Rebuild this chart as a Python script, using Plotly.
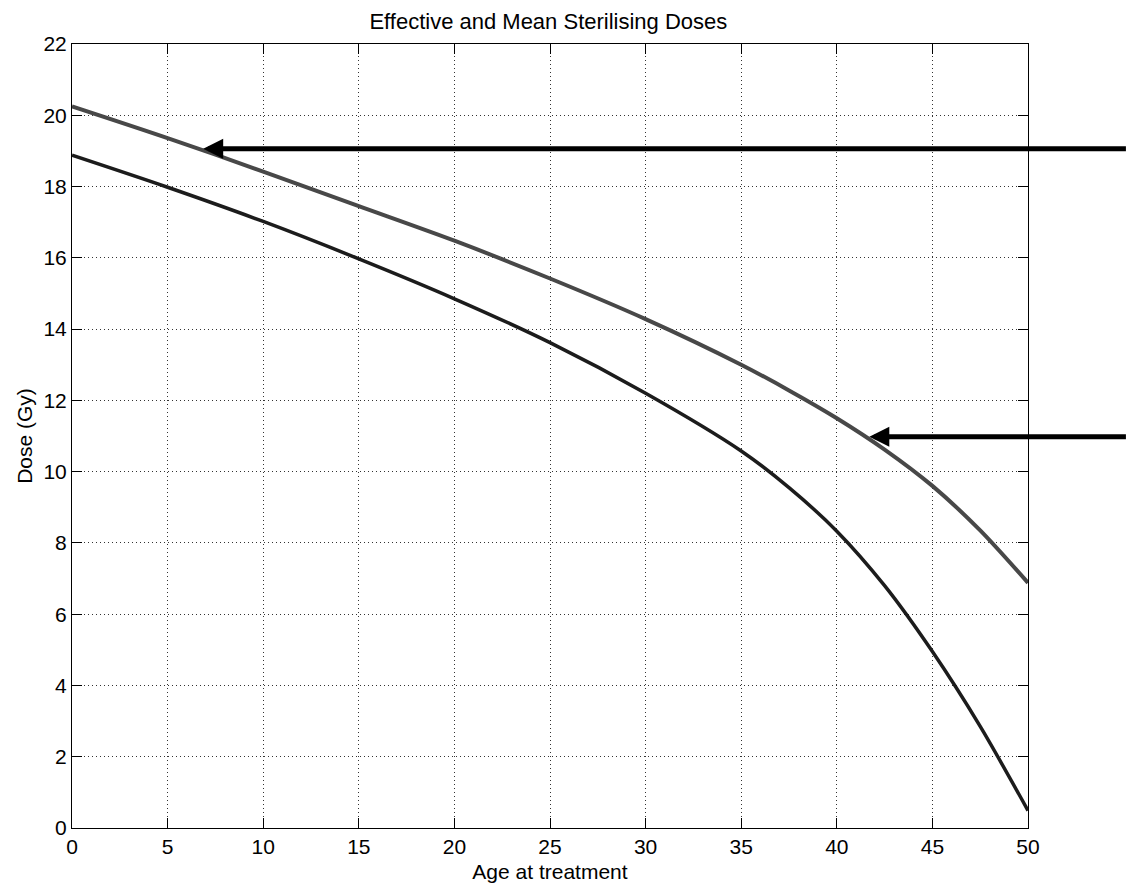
import plotly.graph_objects as go

# Age at treatment (years) and sterilising doses (Gy)
age_upper = [0, 5, 10, 15, 20, 25, 30, 35, 37.5, 40, 42.5, 45, 47.5, 50]
dose_upper = [20.25, 19.36, 18.42, 17.45, 16.48, 15.42, 14.28, 13.0, 12.28, 11.5, 10.62, 9.6, 8.35, 6.88]

age_lower = [0, 5, 10, 15, 20, 25, 30, 35, 37.5, 40, 42.5, 45, 47.5, 50]
dose_lower = [18.88, 17.98, 17.02, 15.97, 14.85, 13.62, 12.2, 10.58, 9.55, 8.33, 6.8, 4.95, 2.85, 0.49]

# Arrow tips pointing at each curve
arrow_tips = [(6.86, 19.06), (41.7, 10.98)]

x_ticks = list(range(0, 51, 5))
y_ticks = list(range(0, 23, 2))

FONT = "Arial, Liberation Sans, sans-serif"

fig = go.Figure()
fig.add_trace(go.Scatter(x=age_upper, y=dose_upper, mode="lines",
                         line=dict(color="#484848", width=4, shape="spline", smoothing=0.8),
                         showlegend=False))
fig.add_trace(go.Scatter(x=age_lower, y=dose_lower, mode="lines",
                         line=dict(color="#1c1c1c", width=3.5, shape="spline", smoothing=0.8),
                         showlegend=False))

for tx, ty in arrow_tips:
    fig.add_annotation(x=tx, y=ty, ax=55.2, ay=ty, xref="x", yref="y",
                       axref="x", ayref="y", text="", showarrow=True,
                       arrowhead=2, arrowsize=0.8, arrowwidth=5,
                       arrowcolor="black")

axis_common = dict(
    showline=True, linecolor="black", linewidth=1, mirror="ticks",
    ticks="inside", ticklen=10, tickcolor="black", tickwidth=1,
    showgrid=True, gridcolor="#333333", gridwidth=1, griddash="1px,3px",
    zeroline=False, automargin=False,
    tickfont=dict(family=FONT, size=21, color="black"),
)

fig.update_xaxes(range=[0, 50], tickvals=x_ticks, **axis_common,
                 title=dict(text="Age at treatment", standoff=7,
                            font=dict(family=FONT, size=21, color="black")))
fig.update_yaxes(range=[0, 22], tickvals=y_ticks, **axis_common,
                 title=dict(text="Dose (Gy)", standoff=5,
                            font=dict(family=FONT, size=21, color="black")))

fig.update_layout(
    width=1126, height=888,
    margin=dict(l=72, r=98, t=44, b=60),
    paper_bgcolor="white", plot_bgcolor="white",
    title=dict(text="Effective and Mean Sterilising Doses", x=0.487, xanchor="center",
               y=0.976, yanchor="middle",
               font=dict(family=FONT, size=22, color="black")),
)

fig.write_html("out.html")
